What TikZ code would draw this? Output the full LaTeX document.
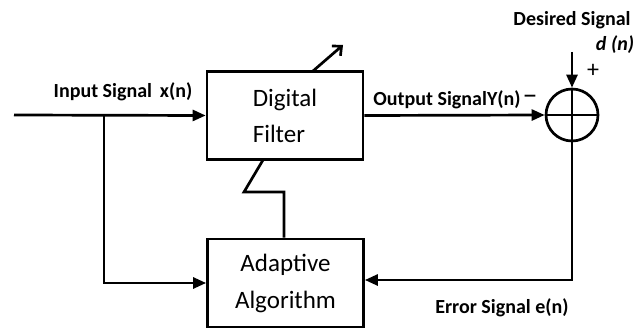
\documentclass[tikz,border=0pt]{standalone}
\usepackage{fontspec}
\setmainfont{Carlito}
\usetikzlibrary{arrows.meta}

\begin{document}
\begin{tikzpicture}[x=1pt, y=-1pt, line width=2.7pt,
    block/.style={draw, rectangle, minimum width=156pt, minimum height=88pt, inner sep=0pt},
    lbl/.style={font=\fontsize{20}{22}\selectfont\bfseries},
    tip/.style={-{Triangle[length=13pt,width=11pt]}}]
    \useasboundingbox (0,0) rectangle (636,331);
    % Draw the two blocks
    \node[block, align=left, font=\fontsize{25}{36}\selectfont] (filter) at (285,115.5) {\raisebox{-4pt}{Digital}\\\raisebox{-4pt}{Filter}};
    \node[block, align=center, font=\fontsize{25}{37}\selectfont] (adapt) at (285.5,283) {Adaptive\\Algorithm};
    \node[draw, circle, minimum size=52pt, inner sep=0pt] (sum) at (572,115) {};
    \draw (sum.north) -- (sum.south);
    \draw (sum.west) -- (sum.east);
    % Draw the input side
    \coordinate (in) at (14,115);
    \coordinate (split) at (104,115);
    \draw[tip] (in) -- (filter.west);
    \draw[tip] (split) |- (adapt.west);
    \node[lbl] (inlbl) at (123,92) {Input Signal\, x(n)};
    % Draw the output and the desired signal
    \draw[tip] (filter.east) -- (sum.west);
    \node[lbl] (outlbl) at (447,100) {Output SignalY(n)};
    \node[font=\fontsize{30}{30}\selectfont] (minus) at (530,100) {–};
    \coordinate (dtop) at (572,52);
    \draw[tip] (dtop) -- (sum.north);
    \node[lbl] (dlbl) at (572,20) {Desired Signal};
    \node[lbl] (dn) at (615,45) {\itshape d (n)};
    \node[font=\fontsize{24}{24}\selectfont] (plus) at (593,71) {+};
    % Draw the error path
    \coordinate (ecorner) at (572,280);
    \draw[tip] (sum.south) -- (ecorner) -- (adapt.east |- ecorner);
    \node[lbl] (elbl) at (502,308) {Error Signal e(n)};
    % Draw the weight update
    \coordinate (zz1) at (284,192);
    \coordinate (zz2) at (244,192);
    \coordinate (zz3) at (263,160);
    \draw (adapt.north -| zz1) -- (zz1) -- (zz2) -- (zz3);
    \coordinate (tune1) at (313,71);
    \coordinate (tune2) at (343,45);
    \draw[-{Straight Barb[length=7pt,width=13pt]}] (tune1) -- (tune2);
\end{tikzpicture}
\end{document}
